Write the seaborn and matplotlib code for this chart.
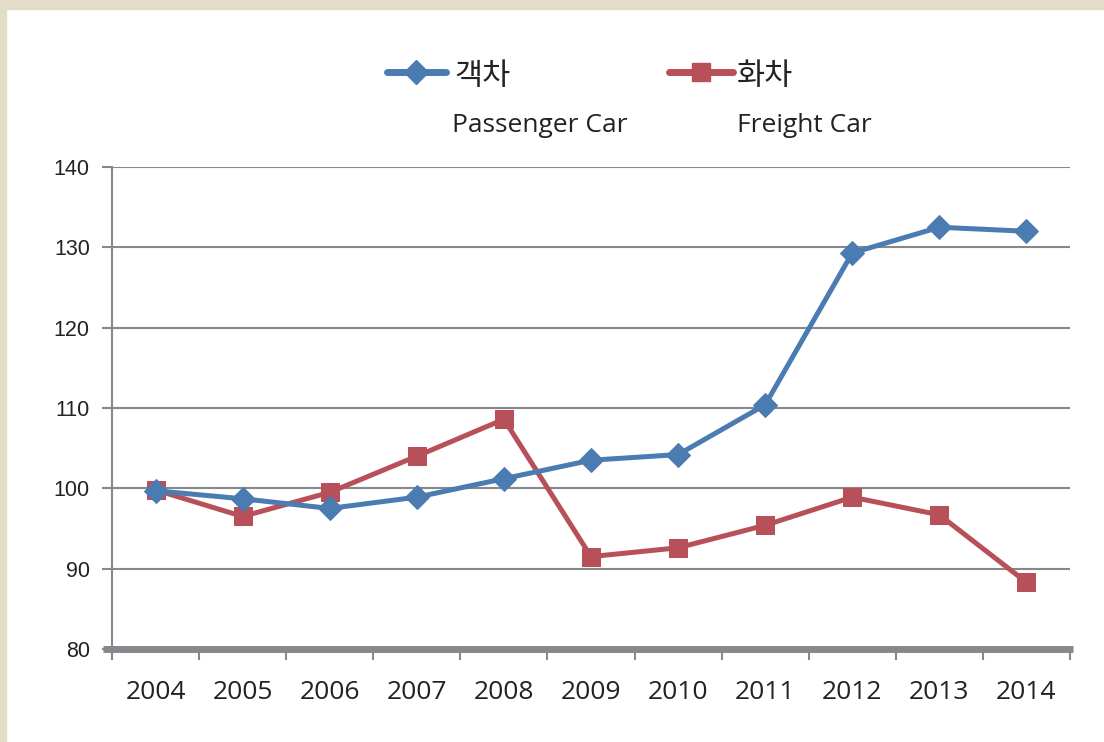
import matplotlib
matplotlib.use("Agg")
import matplotlib.pyplot as plt
import seaborn as sns
import pandas as pd
from matplotlib.lines import Line2D
from matplotlib.patches import Rectangle

years = ['2004', '2005', '2006', '2007', '2008', '2009', '2010', '2011', '2012', '2013', '2014']
passenger = [99.7, 98.7, 97.5, 98.9, 101.2, 103.5, 104.2, 110.4, 129.3, 132.5, 132.0]
freight = [99.8, 96.5, 99.5, 104.0, 108.6, 91.5, 92.6, 95.4, 98.9, 96.7, 88.3]
y_ticks = [80, 90, 100, 110, 120, 130, 140]

blue = '#4a7bb1'
red = '#b8505a'
grey = '#88888c'
beige = '#e3ddc7'

sns.set_theme(style='white')
plt.rcParams['font.family'] = ['Open Sans', 'Noto Sans CJK KR', 'DejaVu Sans']

W, H = 1104, 742
fig = plt.figure(figsize=(W / 100, H / 100), dpi=100)
fig.patch.set_facecolor('white')

# beige frame on top and left
fig.add_artist(Rectangle((0, 1 - 9 / H), 1, 9 / H, transform=fig.transFigure, color=beige, zorder=0))
fig.add_artist(Rectangle((0, 0), 6 / W, 1, transform=fig.transFigure, color=beige, zorder=0))

ax = fig.add_axes([112 / W, (H - 649) / H, (1070 - 112) / W, (649 - 167) / H])

df = pd.DataFrame({'idx': range(len(years)), 'passenger': passenger, 'freight': freight})
sns.lineplot(data=df, x='idx', y='passenger', ax=ax, color=blue, lw=3.6, marker='D', ms=12,
             mec=blue, zorder=4)
sns.lineplot(data=df, x='idx', y='freight', ax=ax, color=red, lw=3.6, marker='s', ms=13,
             mec=red, zorder=3)

ax.set_xlim(-0.5, len(years) - 0.5)
ax.set_ylim(80, 140)
ax.set_xlabel('')
ax.set_ylabel('')

ax.set_yticks(y_ticks)
ax.set_yticklabels([str(v) for v in y_ticks], family='Liberation Sans', fontsize=15.5, color='#222222')
ax.yaxis.grid(True, color=grey, lw=1.5)
ax.set_axisbelow(True)
ax.tick_params(axis='y', length=7, width=1.5, color=grey, left=True, pad=9)

ax.set_xticks(range(len(years)))
ax.set_xticklabels(years, fontsize=19, color='#222222')
ax.set_xticks([i - 0.5 for i in range(len(years) + 1)], minor=True)
ax.tick_params(axis='x', which='major', length=0, pad=22)
ax.tick_params(axis='x', which='minor', length=8, width=1.5, color=grey, bottom=True)

for s in ['top', 'right']:
    ax.spines[s].set_visible(False)
ax.spines['left'].set_color(grey)
ax.spines['left'].set_linewidth(1.5)
ax.spines['bottom'].set_visible(False)
# thick baseline, reaching a bit left of the y axis
ax.add_line(Line2D([-9 / 958, 1.003], [0, 0], transform=ax.transAxes, color=grey, lw=5,
                   clip_on=False, zorder=5, solid_capstyle='butt'))
ax.spines['left'].set_zorder(6)


def fx(px):
    return px / W


def fy(py):
    return 1 - py / H


# legend
fig.add_artist(Line2D([fx(387), fx(446)], [fy(72), fy(72)], color=blue, lw=5, solid_capstyle='round'))
fig.add_artist(Line2D([fx(416)], [fy(72)], color=blue, marker='D', ms=12, mec=blue))
fig.text(fx(454), fy(77), '객차', fontsize=22, va='center', ha='left', color='#222222')
fig.text(fx(452), fy(125), 'Passenger Car', fontsize=19, va='center', ha='left', color='#222222')

fig.add_artist(Line2D([fx(669), fx(733)], [fy(72), fy(72)], color=red, lw=5, solid_capstyle='round'))
fig.add_artist(Line2D([fx(701)], [fy(72)], color=red, marker='s', ms=13, mec=red))
fig.text(fx(737), fy(77), '화차', fontsize=22, va='center', ha='left', color='#222222')
fig.text(fx(737), fy(125), 'Freight Car', fontsize=19, va='center', ha='left', color='#222222')

fig.savefig('out.png', dpi=100)
